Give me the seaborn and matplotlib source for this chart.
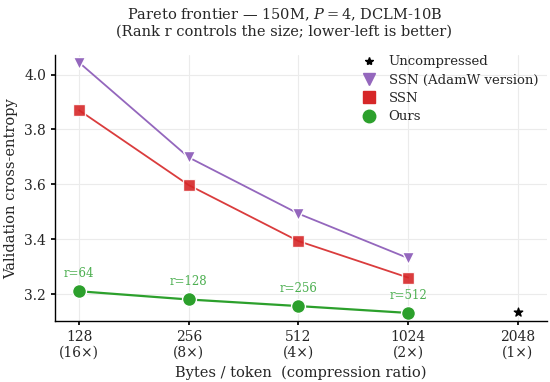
import numpy as np
import pandas as pd
import matplotlib.pyplot as plt
import seaborn as sns
from matplotlib.lines import Line2D

bytes_per_token = [128, 256, 512, 1024]
ssn_adamw = [4.044, 3.698, 3.493, 3.331]
ssn = [3.870, 3.597, 3.393, 3.260]
ours = [3.210, 3.180, 3.156, 3.131]
ranks = [64, 128, 256, 512]
uncompressed_x = 2048
uncompressed_y = 3.135
tick_vals = [128, 256, 512, 1024, 2048]
tick_labels = ["128\n(16×)", "256\n(8×)", "512\n(4×)", "1024\n(2×)", "2048\n(1×)"]

sns.set_theme(style="whitegrid")
plt.rcParams['font.family'] = ['DejaVu Serif']
plt.rcParams['mathtext.fontset'] = 'dejavuserif'

fig, ax = plt.subplots(figsize=(5.5, 3.82), dpi=100)

ax.scatter([uncompressed_x], [uncompressed_y], marker="*", s=40, color="black", zorder=4)

df_a = pd.DataFrame({"x": bytes_per_token, "y": ssn_adamw})
df_s = pd.DataFrame({"x": bytes_per_token, "y": ssn})
df_o = pd.DataFrame({"x": bytes_per_token, "y": ours})

sns.lineplot(data=df_a, x="x", y="y", ax=ax, color="#9467bd", marker="v",
             markersize=9, markeredgecolor="white", markeredgewidth=1, lw=1.3)
sns.lineplot(data=df_s, x="x", y="y", ax=ax, color="#d62728", marker="s",
             markersize=9, markeredgecolor="white", markeredgewidth=1, lw=1.3, alpha=0.9)
sns.lineplot(data=df_o, x="x", y="y", ax=ax, color="#2ca02c", marker="o",
             markersize=10, markeredgecolor="white", markeredgewidth=1, lw=1.6)

for xv, yv, r in zip(bytes_per_token, ours, ranks):
    ax.annotate(f"r={r}", (xv, yv), xytext=(0, 8), textcoords="offset points",
                ha="center", va="bottom", fontsize=8.5, color="#4caf50")

ax.set_xscale("log", base=2)
ax.set_xticks(tick_vals)
ax.set_xticklabels(tick_labels)
ax.minorticks_off()
ax.set_xlim(2 ** 6.78, 2 ** 11.27)
ax.set_ylim(3.102, 4.07)
ax.set_yticks([3.2, 3.4, 3.6, 3.8, 4.0])

ax.grid(True, color="#ebebeb", lw=0.8)
for s in ["top", "right"]:
    ax.spines[s].set_visible(False)
for s in ["left", "bottom"]:
    ax.spines[s].set_color("black")
    ax.spines[s].set_linewidth(1.0)
ax.tick_params(axis="both", labelsize=10, length=3, color="black", left=True, bottom=True)

ax.set_xlabel("Bytes / token  (compression ratio)", fontsize=10.5)
ax.set_ylabel("Validation cross-entropy", fontsize=10.5)
ax.set_title("Pareto frontier — 150M, $P = 4$, DCLM-10B\n(Rank r controls the size; lower-left is better)",
             fontsize=10.5, pad=14, x=0.466)

handles = [
    Line2D([], [], ls="none", marker="*", color="black", markersize=6),
    Line2D([], [], ls="none", marker="v", color="#9467bd", markersize=9),
    Line2D([], [], ls="none", marker="s", color="#d62728", markersize=9),
    Line2D([], [], ls="none", marker="o", color="#2ca02c", markersize=9),
]
ax.legend(handles, ["Uncompressed", "SSN (AdamW version)", "SSN", "Ours"],
          loc="upper right", bbox_to_anchor=(1.0, 1.035), frameon=False,
          fontsize=9.5, handletextpad=0.5, labelspacing=0.4, borderaxespad=0.3)

fig.subplots_adjust(left=0.1, right=0.995, bottom=0.16, top=0.855)
fig.savefig("out.png", dpi=100)
